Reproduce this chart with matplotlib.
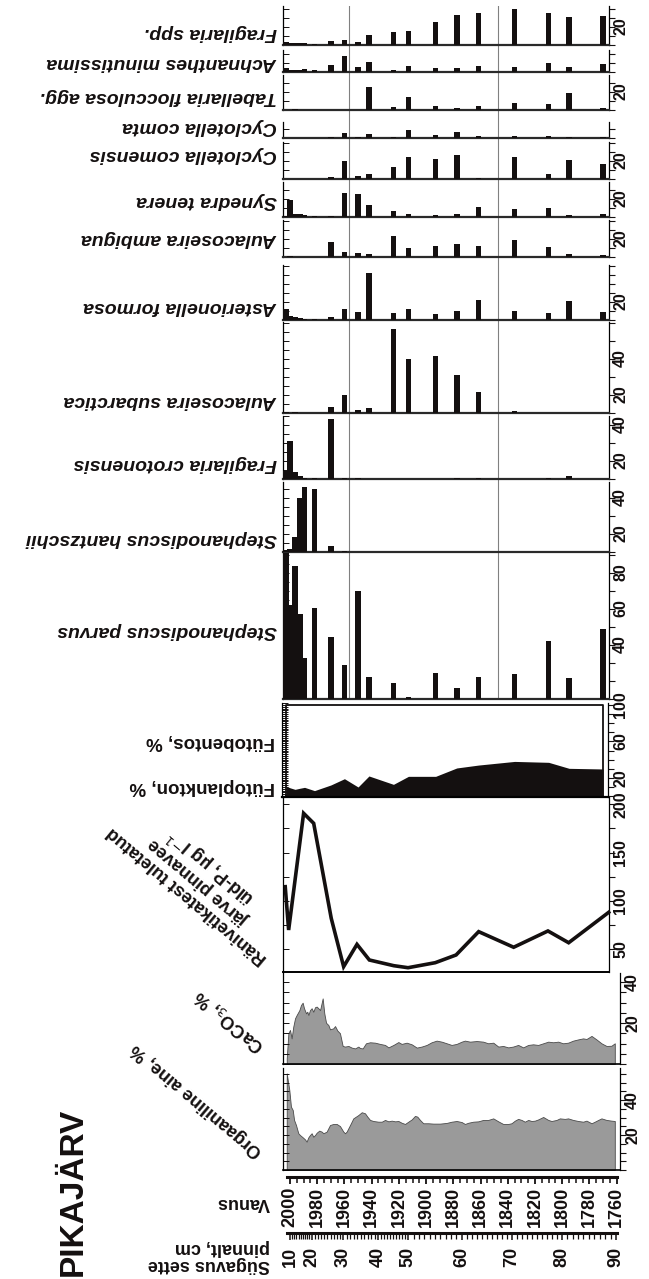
import numpy as np
import matplotlib
matplotlib.use("Agg")
import matplotlib.pyplot as plt
from matplotlib.ticker import MultipleLocator, FixedLocator, NullFormatter

plt.rcParams['font.family'] = ['Liberation Sans', 'DejaVu Sans']

# ---------------------------------------------------------------- data
# diatom samples (year AD) and percentages
dia_year = [2003, 2000, 1996.3, 1992.7, 1989.3, 1982, 1970, 1960, 1950, 1942,
            1924, 1913, 1893, 1877.5, 1861.5, 1835, 1810, 1795, 1770]
fragilaria_spp = [1.5, 0.9, 1.3, 0.9, 1.3, 0.4, 2.2, 2.6, 1.5, 5.6, 7.0, 7.8, 13.0, 16.9, 18.0, 20.0, 18.0, 15.7, 16.1]
achnanthes_min = [2.4, 1.1, 1.3, 1.3, 1.5, 1.3, 3.7, 8.9, 3.0, 5.7, 1.3, 3.3, 2.2, 2.2, 3.3, 2.8, 5.2, 2.6, 4.3]
tabellaria_flo = [0, 0, 0.4, 0, 0, 0, 0, 0, 0, 12.6, 1.7, 7.0, 2.2, 0.9, 2.0, 4.1, 3.1, 9.6, 0.9]
cyclotella_comta = [0, 0, 0, 0, 0, 0, 0.6, 2.8, 0.7, 2.0, 0.4, 4.3, 1.7, 3.5, 1.3, 0.9, 1.1, 0.6, 0.7]
cyclotella_comensis = [0, 0, 0, 0, 0, 0, 0.9, 10.2, 1.9, 2.6, 6.9, 12.4, 10.9, 13.1, 0.4, 12.0, 2.8, 10.6, 8.3]
synedra_tenera = [0.5, 9.6, 1.9, 1.5, 1.0, 0.4, 0.7, 13.3, 13.0, 6.7, 3.3, 1.9, 0.9, 1.7, 5.6, 4.4, 4.8, 1.1, 1.9]
aulacoseira_ambigua = [0, 0.4, 0, 0, 0, 0, 8.3, 2.8, 2.4, 1.9, 11.7, 5.2, 6.3, 7.0, 6.1, 9.6, 5.4, 1.5, 1.3]
asterionella_formosa = [5.9, 2.2, 1.9, 0.9, 0.6, 0.4, 1.5, 5.9, 4.6, 26.3, 3.7, 5.9, 3.3, 5.0, 11.0, 5.0, 4.1, 10.6, 4.6]
aulacoseira_subarctica = [0.4, 0, 0.4, 0, 0, 0.2, 3.3, 10.2, 1.5, 2.6, 46.9, 30.2, 31.5, 21.3, 11.7, 0.9, 0, 0, 0]
fragilaria_crotonensis = [4.6, 21.0, 3.7, 1.8, 0.3, 0.3, 33.3, 0.4, 0.3, 0, 0, 0.2, 0, 0.3, 0.3, 0, 0.3, 1.5, 0]
stephanodiscus_hantzschii = [0.9, 1.5, 8.3, 30.0, 36.0, 35.2, 3.1, 0.4, 0, 0, 0, 0, 0, 0, 0, 0, 0, 0, 0]
stephanodiscus_parvus = [81, 52, 74, 47, 23, 50.4, 34.6, 18.9, 60.2, 12.0, 8.7, 1.3, 14.3, 6.3, 12.4, 13.7, 32.4, 11.9, 38.9]

species_names = ["Fragilaria spp.", "Achnanthes minutissima", "Tabellaria flocculosa agg.",
                 "Cyclotella comta", "Cyclotella comensis", "Synedra tenera",
                 "Aulacoseira ambigua", "Asterionella formosa", "Aulacoseira subarctica",
                 "Fragilaria crotonensis", "Stephanodiscus hantzschii", "Stephanodiscus parvus"]
species_ticklabels = [[20], [], [20], [], [20], [20], [20], [20], [20, 40], [20, 40], [20, 40], [40, 60, 80]]

# phytoplankton share (%) of diatoms, rest = phytobenthos
fytoplankton_pct = [11, 9, 7.3, 8.5, 9.5, 5.9, 12.1, 19, 9.9, 22, 12.8, 21.6, 21.6, 30.8, 34, 38, 37, 30.4, 29.7]

# diatom-inferred total phosphorus
tp_year = [2003.5, 2001, 1990, 1982.6, 1969.7, 1960.6, 1950.8, 1941.7, 1923.8, 1913.3,
           1893.3, 1878, 1861.4, 1835.7, 1810.5, 1795.3, 1765.9]
tp_ugl = [114.6, 69.7, 190.7, 180.3, 81.8, 31.7, 54.8, 38.6, 32.7, 30.6,
          35.8, 43.8, 68, 51.8, 68.7, 56.5, 88]

# CaCO3 %
caco3_year = [2002.4, 2001.2, 2000.0, 1998.8, 1997.6, 1996.3, 1995.1, 1993.1, 1991.9, 1990.7,
              1989.7, 1988.2, 1987.3, 1986.5, 1985.3, 1984.1, 1982.9, 1981.6, 1980.4, 1979.2,
              1977.9, 1976.0, 1974.8, 1973.5, 1971.8, 1970.6, 1968.2, 1966.9, 1965.2, 1963.3,
              1961.3, 1959.6, 1957.1, 1954.7, 1952.2, 1949.8, 1948.6, 1946.6, 1944.2, 1941.2,
              1937.5, 1933.9, 1930.2, 1927.7, 1924.0, 1920.4, 1918.0, 1914.3, 1910.6, 1906.9,
              1903.3, 1899.6, 1896.0, 1892.3, 1888.6, 1884.9, 1881.3, 1877.6, 1873.9, 1871.5,
              1867.8, 1862.9, 1858.1, 1854.4, 1850.7, 1847.0, 1843.4, 1839.7, 1836.1, 1832.4,
              1828.7, 1825.0, 1821.4, 1817.7, 1814.0, 1810.3, 1806.7, 1803.0, 1799.4, 1795.7,
              1792.0, 1788.3, 1784.7, 1782.2, 1778.5, 1774.9, 1771.2, 1767.5, 1763.9, 1761.4]
caco3_pct = [2.8, 15.0, 16.6, 12.5, 18.2, 22.3, 23.9, 26.3, 28.8, 29.9,
             27.2, 24.7, 25.5, 23.9, 26.3, 27.2, 25.5, 27.7, 28.0, 27.2,
             26.3, 32.0, 24.7, 20.1, 19.0, 16.9, 17.4, 18.5, 16.3, 15.0,
             8.8, 8.5, 8.8, 8.0, 7.6, 8.5, 7.8, 7.6, 10.1, 10.6,
             10.4, 9.8, 9.3, 8.1, 9.3, 10.7, 9.8, 10.4, 9.6, 8.0,
             8.5, 9.3, 10.6, 11.4, 10.9, 10.1, 9.3, 9.8, 10.9, 11.4,
             10.9, 11.2, 10.9, 10.1, 10.4, 8.5, 8.8, 8.1, 8.5, 9.3,
             8.1, 9.3, 9.6, 9.3, 10.1, 10.9, 10.6, 10.9, 10.1, 10.4,
             11.4, 12.0, 12.5, 12.2, 13.7, 12.0, 10.1, 8.8, 8.9, 10.1]

# organic matter %
organic_year = [2002.4, 2000.5, 1999.3, 1998.0, 1997.0, 1995.6, 1993.9, 1992.7, 1990.7, 1989.0,
                1987.8, 1986.5, 1985.3, 1984.1, 1982.9, 1981.6, 1980.4, 1978.5, 1976.7, 1975.5,
                1973.1, 1970.6, 1968.2, 1965.7, 1963.3, 1960.8, 1959.6, 1958.4, 1955.9, 1953.5,
                1949.8, 1947.3, 1944.9, 1943.2, 1941.2, 1938.8, 1935.1, 1932.6, 1930.2, 1927.7,
                1925.3, 1922.8, 1920.4, 1918.0, 1915.5, 1913.1, 1910.6, 1908.2, 1906.5, 1904.5,
                1902.1, 1898.4, 1894.7, 1889.8, 1884.9, 1881.3, 1877.6, 1873.9, 1871.5, 1869.0,
                1865.4, 1861.7, 1858.1, 1854.4, 1850.7, 1847.0, 1843.4, 1839.7, 1837.3, 1834.8,
                1832.4, 1829.9, 1827.5, 1825.0, 1822.6, 1820.1, 1817.7, 1814.0, 1810.3, 1807.9,
                1804.2, 1801.8, 1798.1, 1795.7, 1792.0, 1788.3, 1784.7, 1782.2, 1778.5, 1776.1,
                1773.6, 1771.2, 1767.5, 1763.9, 1761.4]
organic_pct = [55.2, 45.7, 36.2, 34.3, 28.6, 25.7, 21.0, 20.0, 18.7, 17.5,
               16.2, 18.7, 20.0, 21.0, 19.0, 20.0, 21.3, 22.5, 21.9, 21.0,
               21.9, 25.7, 26.3, 26.3, 25.1, 21.9, 21.0, 21.9, 25.7, 29.5,
               31.4, 33.0, 32.4, 30.5, 28.6, 28.0, 27.6, 27.6, 28.6, 27.8,
               28.2, 27.8, 28.0, 27.0, 26.3, 27.6, 28.9, 30.9, 30.5, 28.6,
               26.7, 26.7, 26.5, 26.5, 26.9, 27.6, 28.0, 27.4, 26.3, 27.0,
               27.6, 27.8, 28.6, 28.6, 29.5, 27.8, 26.3, 26.3, 26.7, 28.2,
               29.2, 28.6, 27.6, 28.6, 28.0, 28.2, 28.9, 30.3, 28.6, 28.0,
               28.6, 29.5, 29.2, 29.5, 28.6, 28.0, 27.6, 28.2, 26.7, 27.6,
               28.6, 29.5, 28.6, 28.2, 28.0]

# zone boundaries (year AD)
zone_year = [1956.7, 1847.2]

# age-depth model for the depth axis
depth_cm = [10, 20, 30, 40, 50, 60, 70, 80, 90]
depth_year = [2000.0, 1984.1, 1960.9, 1935.2, 1913.1, 1873.9, 1837.2, 1800.4, 1760.4]

year_ticks = list(range(2000, 1759, -20))

# ---------------------------------------------------------------- layout
W, H = 649, 1279
fig = plt.figure(figsize=(W / 100, H / 100), dpi=100)
INK = '#141010'
GRAY = '#9a9a9a'

X2000, PX_PER_YR = 290.0, 326.7 / 240.0


def yr_at(px):
    return 2000 - (px - X2000) / PX_PER_YR


def add_ax(l, r, t, b):
    ax = fig.add_axes([l / W, 1 - b / H, (r - l) / W, (b - t) / H])
    ax.set_xlim(yr_at(l), yr_at(r))
    ax.patch.set_alpha(0)
    ax.tick_params(axis='x', which='both', bottom=False, top=False, labelbottom=False)
    ax.spines['top'].set_visible(False)
    return ax


def right_labels(ax, values, dx=4, dy=0, fs=11.5):
    for v in values:
        ax.annotate(str(v), xy=(1, v), xycoords=('axes fraction', 'data'),
                    xytext=(dx, dy), textcoords='offset pixels', rotation=90,
                    ha='left', va='center', fontsize=fs, fontweight='bold', color=INK,
                    annotation_clip=False)


def style_y(ax, step_right, step_left, labels, dx=4, dy=0):
    ax.spines['right'].set_visible(False)
    ax.spines['left'].set_linewidth(0.9)
    ax.yaxis.set_major_locator(MultipleLocator(step_left))
    ax.tick_params(axis='y', which='both', direction='in', length=4, width=0.7,
                   left=True, right=False, labelleft=False, color=INK)
    sec = ax.secondary_yaxis('right')
    sec.yaxis.set_major_locator(MultipleLocator(step_right))
    sec.yaxis.set_major_formatter(NullFormatter())
    sec.tick_params(direction='out', length=4, width=0.8, color=INK)
    sec.spines['right'].set_linewidth(0.9)
    right_labels(ax, labels, dx=dx, dy=dy)


# ---------------------------------------------------------------- zone lines across diatom panels
axz = fig.add_axes([283 / W, 1 - 699 / H, (609 - 283) / W, (699 - 6) / H], zorder=-1)
axz.set_xlim(yr_at(283), yr_at(609))
axz.axis('off')
for zy in zone_year:
    axz.axvline(zy, color='#808080', lw=0.8)

# ---------------------------------------------------------------- diatom panels
panel_px = [(6, 45), (50, 72), (75, 110), (122, 138), (142, 179), (182, 217), (220, 257),
            (265, 320), (322, 413), (416, 479), (482, 552), (553, 699)]
label_y_px = [33, 62, 97, 126, 155, 200, 238, 306, 400, 463, 538, 630]
PCT_PX = 1.8
BAR_W = 4.1

species_vals = [fragilaria_spp, achnanthes_min, tabellaria_flo, cyclotella_comta,
                cyclotella_comensis, synedra_tenera, aulacoseira_ambigua,
                asterionella_formosa, aulacoseira_subarctica, fragilaria_crotonensis,
                stephanodiscus_hantzschii, stephanodiscus_parvus]

for (t, b), vals, name, ly, labs in zip(panel_px, species_vals, species_names,
                                         label_y_px, species_ticklabels):
    ax = add_ax(283, 609, t, b)
    ymax = (b - t) / PCT_PX
    ax.set_ylim(0, ymax)
    ax.bar(dia_year, vals, width=BAR_W, color=INK, linewidth=0, zorder=3)
    ax.spines['bottom'].set_linewidth(1.6)
    ax.spines['bottom'].set_color('#2a2a2a')
    step = 10 if ymax > 32 else 5
    style_y(ax, step, step / 2 if step == 10 else step, labs, dx=4, dy=-17)
    fig.text(277 / W, 1 - ly / H, name, rotation=180, ha='right', va='center',
             fontsize=14, fontweight='bold', fontstyle='italic', color=INK)

# ---------------------------------------------------------------- plankton / benthos
axf = add_ax(282, 608, 703, 797)
axf.set_ylim(-1.1, 102.2)
axf.fill_between(dia_year, fytoplankton_pct, 0, color=INK, linewidth=0)
axf.plot([dia_year[0], dia_year[0], dia_year[-1], dia_year[-1], dia_year[0]],
         [0, 100, 100, 0, 0], color=INK, lw=1.3)
axf.spines['bottom'].set_linewidth(1.6)
style_y(axf, 10, 2, [20, 60, 100], dx=5)
fig.text(275 / W, 1 - 787 / H, "Fütoplankton, %", rotation=180, ha='right', va='center',
         fontsize=13.5, fontweight='bold', color=INK)
fig.text(275 / W, 1 - 742 / H, "Fütobentos, %", rotation=180, ha='right', va='center',
         fontsize=13.5, fontweight='bold', color=INK)

# ---------------------------------------------------------------- TP line
axl = add_ax(283, 609, 797, 972)
TP_PX = 0.9645
axl.set_ylim(50 - (972 - 949) / TP_PX, 50 + (949 - 797) / TP_PX)
axl.plot(tp_year, tp_ugl, color=INK, lw=2.6, solid_joinstyle='miter', clip_on=False)
axl.spines['bottom'].set_linewidth(1.4)
style_y(axl, 25, 25, [50, 100, 150, 200], dx=4)
fig.text(201 / W, 1 - 879 / H, "Ränivetikatest tuletatud\njärve pinnavee\nüld-P, µg l$^{-1}$",
         rotation=140, rotation_mode='anchor', ha='center', va='center',
         multialignment='center', fontsize=13, fontweight='bold', color=INK,
         linespacing=1.0)

# ---------------------------------------------------------------- CaCO3
axc = add_ax(283, 620, 973, 1064)
axc.set_ylim(0, (1064 - 973) / 2.05)
axc.fill_between(caco3_year, caco3_pct, 0, color=GRAY, edgecolor='#4a4a4a', linewidth=0.6)
axc.spines['bottom'].set_linewidth(1.2)
style_y(axc, 5, 5, [20, 40], dx=5)
fig.text(230 / W, 1 - 1021 / H, "CaCO$_3$, %", rotation=140, rotation_mode='anchor',
         ha='center', va='center', fontsize=13, fontweight='bold', color=INK)

# ---------------------------------------------------------------- organic matter
axo = add_ax(283, 620, 1068, 1170)
axo.set_ylim(0, (1170 - 1068) / 1.75)
axo.fill_between(organic_year, organic_pct, 0, color=GRAY, edgecolor='#4a4a4a', linewidth=0.6)
axo.spines['bottom'].set_linewidth(1.2)
style_y(axo, 5, 5, [20, 40], dx=5)
fig.text(197 / W, 1 - 1100 / H, "Orgaaniline aine, %", rotation=140, rotation_mode='anchor',
         ha='center', va='center', fontsize=13, fontweight='bold', color=INK)

# ---------------------------------------------------------------- year axis
axy = fig.add_axes([287 / W, 1 - 1177 / H, (617 - 287) / W, 1 / H])
axy.set_xlim(yr_at(287), yr_at(617))
axy.patch.set_alpha(0)
for s in ['top', 'left', 'right']:
    axy.spines[s].set_visible(False)
axy.spines['bottom'].set_linewidth(2.2)
axy.spines['bottom'].set_color(INK)
axy.set_yticks([])
axy.xaxis.set_major_locator(FixedLocator(year_ticks))
axy.xaxis.set_minor_locator(MultipleLocator(5))
axy.set_xticklabels([str(y) for y in year_ticks], rotation=90, fontsize=13,
                    fontweight='bold', color=INK)
axy.tick_params(axis='x', which='major', direction='out', length=5, width=1.3, pad=2, color=INK)
axy.tick_params(axis='x', which='minor', direction='out', length=4, width=1.1, color=INK)

# ---------------------------------------------------------------- depth axis
axd = fig.add_axes([287 / W, 1 - 1233 / H, (617 - 287) / W, 1 / H])
axd.set_xlim(yr_at(287), yr_at(617))
axd.patch.set_alpha(0)
for s in ['top', 'left', 'right']:
    axd.spines[s].set_visible(False)
axd.spines['bottom'].set_linewidth(2.2)
axd.spines['bottom'].set_color(INK)
axd.set_yticks([])
axd.xaxis.set_major_locator(FixedLocator(depth_year))
axd.xaxis.set_minor_locator(FixedLocator(np.interp(np.arange(10, 91), depth_cm, depth_year)))
axd.set_xticklabels([str(d) for d in depth_cm], rotation=90, fontsize=13,
                    fontweight='bold', color=INK)
axd.tick_params(axis='x', which='major', direction='out', length=5, width=1.1, pad=5, color=INK)
axd.tick_params(axis='x', which='minor', direction='out', length=4, width=0.9, color=INK)

# ---------------------------------------------------------------- left column texts
fig.text(73 / W, 1 - 1192 / H, "PIKAJÄRV", rotation=90, ha='center', va='center',
         fontsize=24, fontweight='bold', color=INK)
fig.text(270 / W, 1 - 1203 / H, "Vanus", rotation=180, ha='right', va='center',
         fontsize=13, fontweight='bold', color=INK)
fig.text(270 / W, 1 - 1256 / H, "Sügavus sette\npinnalt, cm", rotation=180, ha='right',
         va='center', multialignment='left', fontsize=13, fontweight='bold', color=INK,
         linespacing=1.0)

fig.savefig("out.png", dpi=100)
